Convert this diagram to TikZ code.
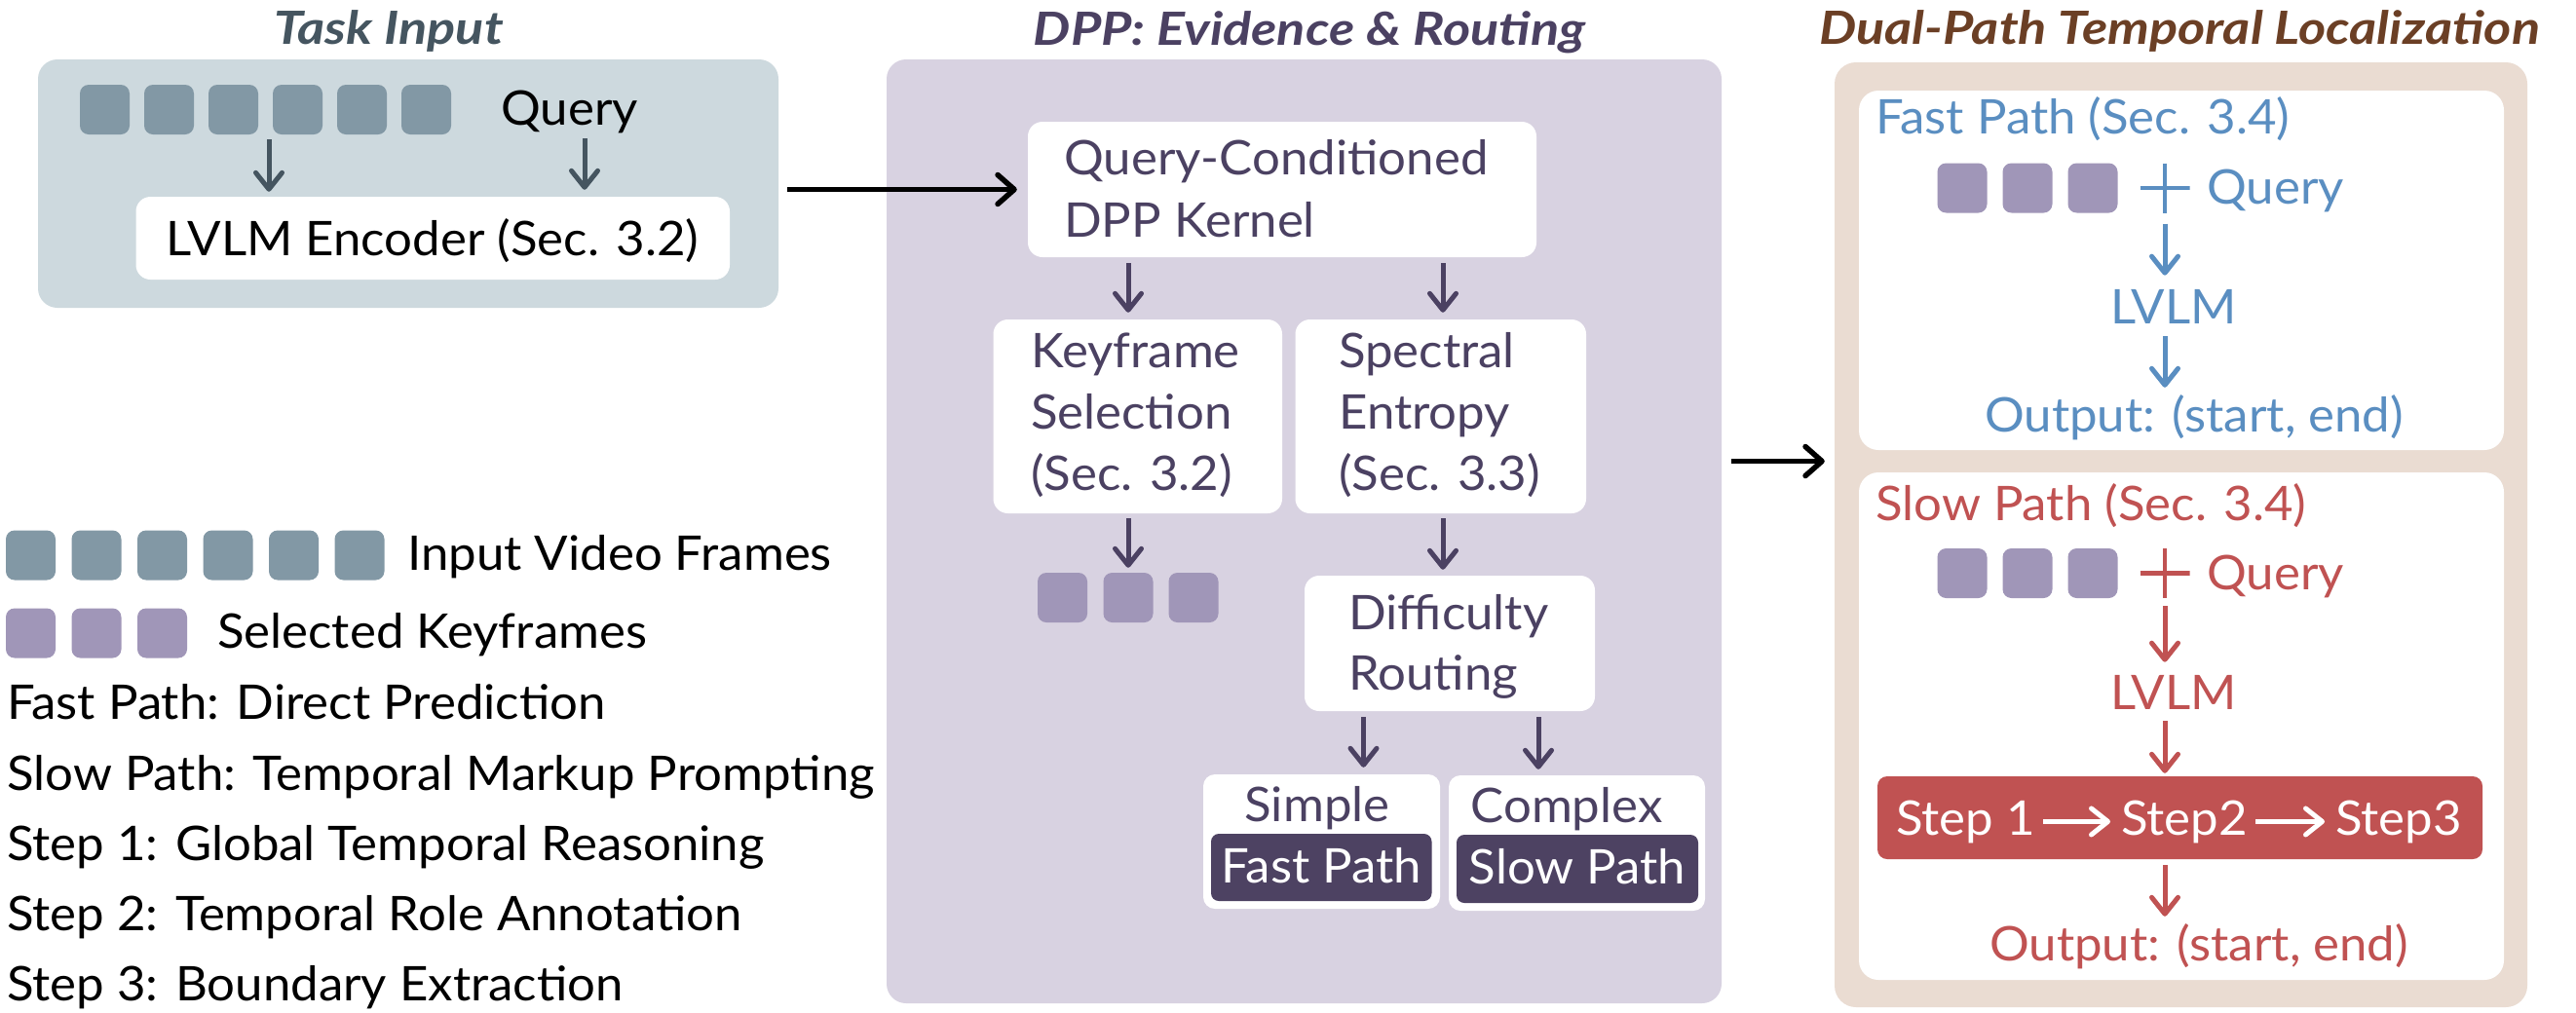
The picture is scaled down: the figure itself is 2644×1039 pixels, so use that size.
\documentclass[tikz,border=0pt]{standalone}
\usepackage{fontspec}
\setmainfont[FakeStretch=1.04]{Lato}
\newfontfamily\titlefont[FakeStretch=1.15]{Lato}
\usetikzlibrary{arrows.meta,calc}
\definecolor{taskfill}{HTML}{CDD9DE}
\definecolor{slate}{HTML}{8298A5}
\definecolor{slatedk}{HTML}{455560}
\definecolor{dppfill}{HTML}{D8D2E1}
\definecolor{purpdk}{HTML}{4B4162}
\definecolor{purpfrm}{HTML}{A096B8}
\definecolor{beige}{HTML}{EADCD2}
\definecolor{titlebrown}{HTML}{6B3F25}
\definecolor{fastblue}{HTML}{5A8EC1}
\definecolor{slowred}{HTML}{C05252}
\definecolor{darklabel}{HTML}{4D4262}
\begin{document}
\begin{tikzpicture}[x=1pt,y=-1pt,
  txt/.style={inner sep=0pt, font=\fontsize{49}{64}\selectfont},
  ttl/.style={inner sep=0pt, font=\titlefont\fontsize{47}{56}\selectfont\bfseries\itshape},
  panel/.style={inner sep=0pt, rounded corners=20pt},
  wbox/.style={fill=white, inner sep=0pt, rounded corners=15pt},
  frm/.style={minimum width=51pt, minimum height=51pt, inner sep=0pt, rounded corners=9pt, fill=#1},
  arr/.style={line width=5pt, draw=#1, -{Straight Barb[length=17pt,width=27pt,round]}},
  barr/.style={line width=5.5pt, draw=black, -{Straight Barb[length=17pt,width=30pt,round]}},
  plussign/.style={minimum size=51pt, inner sep=0pt,
    path picture={\draw[line width=4.5pt, draw=#1]
      (path picture bounding box.north) -- (path picture bounding box.south)
      (path picture bounding box.west) -- (path picture bounding box.east);}}
]
\useasboundingbox (0,0) rectangle (2644,1039);
\fill[white] (0,0) rectangle (2644,1039);

% ---------------- Task Input ----------------
\node[ttl, text=slatedk, anchor=base] (ttask) at (399,45) {Task Input};
\node[panel, fill=taskfill, minimum width=760pt, minimum height=255pt] (taskbox) at (419,188.5) {};
\foreach \i in {1,...,6} \node[frm=slate] (f\i) at ({107.5+66*(\i-1)},112.5) {};
\node[txt, anchor=base west] (query) at (514,128) {Query};
\node[wbox, minimum width=609.5pt, minimum height=85pt] (enc) at (444.25,244.5) {};
\node[txt, anchor=base] (enctxt) at (444,262) {LVLM Encoder (Sec. 3.2)};
\coordinate (ax1) at (276,0);
\coordinate (ax2) at (600,0);
\draw[arr=slatedk, shorten <=5pt, shorten >=5pt] (ax1 |- f1.south) -- (ax1 |- enc.north);
\draw[arr=slatedk, shorten <=4pt, shorten >=7pt] (ax2 |- f1.south) -- (ax2 |- enc.north);

% ---------------- DPP ----------------
\node[ttl, text=purpdk, anchor=base] (tdpp) at (1344,46) {DPP: Evidence \& Routing};
\node[panel, fill=dppfill, minimum width=857pt, minimum height=969pt] (dpp) at (1338.5,545.5) {};
\node[wbox, minimum width=522pt, minimum height=139pt] (qc) at (1316,194.5) {};
\node[txt, text=purpdk, anchor=base west] (qc1) at (1092,179) {Query-Conditioned};
\node[txt, text=purpdk, anchor=base west] (qc2) at (1092,243) {DPP Kernel};
\node[wbox, minimum width=296.5pt, minimum height=199pt] (kf) at (1167.75,427.5) {};
\node[txt, text=purpdk, anchor=base west] (kf1) at (1058,377) {Keyframe};
\node[txt, text=purpdk, anchor=base west] (kf2) at (1058,440) {Selection};
\node[txt, text=purpdk, anchor=base west] (kf3) at (1058,503) {(Sec. 3.2)};
\node[wbox, minimum width=298.5pt, minimum height=199pt] (se) at (1478.75,427.5) {};
\node[txt, text=purpdk, anchor=base west] (se1) at (1374,377) {Spectral};
\node[txt, text=purpdk, anchor=base west] (se2) at (1374,440) {Entropy};
\node[txt, text=purpdk, anchor=base west] (se3) at (1374,503) {(Sec. 3.3)};
\node[frm=purpfrm] (k1) at (1090.5,613.5) {};
\node[frm=purpfrm] (k2) at (1158,613.5) {};
\node[frm=purpfrm] (k3) at (1225,613.5) {};
\node[wbox, minimum width=298pt, minimum height=139pt] (dr) at (1488,660.5) {};
\node[txt, text=purpdk, anchor=base west] (dr1) at (1384,646) {Difficulty};
\node[txt, text=purpdk, anchor=base west] (dr2) at (1384,708) {Routing};
\node[wbox, rounded corners=12pt, minimum width=243pt, minimum height=138pt] (simple) at (1356.5,864) {};
\node[txt, text=purpdk, anchor=base] (simpletxt) at (1352,843) {Simple};
\node[fill=darklabel, rounded corners=8pt, inner sep=0pt, minimum width=226.5pt, minimum height=69pt] (fastd) at (1356.25,890.5) {};
\node[txt, text=white, anchor=base] (fastdtxt) at (1356.25,906) {Fast Path};
\node[wbox, rounded corners=12pt, minimum width=263pt, minimum height=139pt] (complex) at (1618.5,865.5) {};
\node[txt, text=purpdk, anchor=base] (complextxt) at (1608,844) {Complex};
\node[fill=darklabel, rounded corners=8pt, inner sep=0pt, minimum width=248pt, minimum height=70pt] (slowd) at (1619,892) {};
\node[txt, text=white, anchor=base] (slowdtxt) at (1619,907) {Slow Path};
\coordinate (kx) at (1158,0);
\coordinate (sx) at (1481,0);
\coordinate (dx1) at (1399.5,0);
\coordinate (dx2) at (1579,0);
\draw[arr=purpdk, shorten <=6pt, shorten >=7pt] (kx |- qc.south) -- (kx |- kf.north);
\draw[arr=purpdk, shorten <=6pt, shorten >=7pt] (sx |- qc.south) -- (sx |- se.north);
\draw[arr=purpdk, shorten <=5pt, shorten >=5pt] (kx |- kf.south) -- (k2.north);
\draw[arr=purpdk, shorten <=5pt, shorten >=6pt] (sx |- se.south) -- (sx |- dr.north);
\draw[arr=purpdk, shorten <=6pt, shorten >=7pt] (dx1 |- dr.south) -- (dx1 |- simple.north);
\draw[arr=purpdk, shorten <=6pt, shorten >=6pt] (dx2 |- dr.south) -- (dx2 |- complex.north);

% ---------------- Dual path ----------------
\node[ttl, text=titlebrown, anchor=base] (tdual) at (2237,45) {Dual-Path Temporal Localization};
\node[panel, fill=beige, rounded corners=22pt, minimum width=711pt, minimum height=970pt] (outer) at (2238.5,549) {};
\node[wbox, rounded corners=20pt, minimum width=662pt, minimum height=369pt] (fastbox) at (2239,277.5) {};
\node[wbox, rounded corners=20pt, minimum width=662pt, minimum height=521pt] (slowbox) at (2239,745.5) {};

\node[txt, text=fastblue, anchor=base west] (fttl) at (1925,137) {Fast Path (Sec. 3.4)};
\node[frm=purpfrm] (fk1) at (2014,193) {};
\node[frm=purpfrm] (fk2) at (2081,193) {};
\node[frm=purpfrm] (fk3) at (2148,193) {};
\node[plussign=fastblue] (fp) at (2222,193) {};
\node[txt, text=fastblue, anchor=base west] (fq) at (2265,209) {Query};
\node[txt, text=fastblue, anchor=base] (flvlm) at (2231,332) {LVLM};
\node[txt, text=fastblue, anchor=base] (fout) at (2252,443) {Output: (start, end)};
\draw[arr=fastblue, shorten <=11pt, shorten >=14pt] (fp.south) -- (fp.south |- flvlm.north);
\draw[arr=fastblue, shorten <=13pt, shorten >=7pt] (fp.south |- flvlm.south) -- (fp.south |- fout.north);

\node[txt, text=slowred, anchor=base west] (sttl) at (1925,534) {Slow Path (Sec. 3.4)};
\node[frm=purpfrm] (sk1) at (2014,588.5) {};
\node[frm=purpfrm] (sk2) at (2081,588.5) {};
\node[frm=purpfrm] (sk3) at (2148,588.5) {};
\node[plussign=slowred] (sp) at (2222,588.5) {};
\node[txt, text=slowred, anchor=base west] (sq) at (2265,605) {Query};
\node[txt, text=slowred, anchor=base] (slvlm) at (2231,728) {LVLM};
\node[fill=slowred, rounded corners=10pt, inner sep=0pt, minimum width=621pt, minimum height=85pt] (stepbox) at (2237.5,839.5) {};
\node[txt, text=white, anchor=base west] (st1) at (1946,857) {Step 1};
\node[txt, text=white, anchor=base west] (st2) at (2177,857) {Step2};
\node[txt, text=white, anchor=base west] (st3) at (2397,857) {Step3};
\node[txt, text=slowred, anchor=base] (sout) at (2257,986) {Output: (start, end)};
\draw[arr=slowred, shorten <=8pt, shorten >=13pt] (sp.south) -- (sp.south |- slvlm.north);
\draw[arr=slowred, shorten <=12pt, shorten >=3pt] (sp.south |- slvlm.south) -- (sp.south |- stepbox.north);
\draw[arr=slowred, shorten <=6pt, shorten >=7pt] (sp.south |- stepbox.south) -- (sp.south |- sout.north);
\draw[arr=white, shorten <=8pt, shorten >=11pt] (st1.east) -- (st2.west);
\draw[arr=white, shorten <=8pt, shorten >=11pt] (st2.east) -- (st3.west);

% ---------------- connectors between panels ----------------
\coordinate (gap) at ($(fastbox.south)!0.5!(slowbox.north)$);
\draw[barr, shorten <=9pt, shorten >=11pt] (taskbox.east |- qc.west) -- (qc.west);
\draw[barr, shorten <=10pt, shorten >=10pt] (dpp.east |- gap) -- (outer.west |- gap);

% ---------------- Legend ----------------
\foreach \i in {1,...,6} \node[frm=slate] (lf\i) at ({31.5+67.5*(\i-1)},570) {};
\node[txt, anchor=base west] (lg1) at (418,585) {Input Video Frames};
\node[frm=purpfrm] (lk1) at (31.5,650) {};
\node[frm=purpfrm] (lk2) at (99,650) {};
\node[frm=purpfrm] (lk3) at (166.5,650) {};
\node[txt, anchor=base west] (lg2) at (223,665) {Selected Keyframes};
\node[txt, anchor=base west] (lg3) at (7,738) {Fast Path: Direct Prediction};
\node[txt, anchor=base west] (lg4) at (7,811) {Slow Path: Temporal Markup Prompting};
\node[txt, anchor=base west] (lg5) at (7,883) {Step 1: Global Temporal Reasoning};
\node[txt, anchor=base west] (lg6) at (7,955.5) {Step 2: Temporal Role Annotation};
\node[txt, anchor=base west] (lg7) at (7,1027.5) {Step 3: Boundary Extraction};
\end{tikzpicture}
\end{document}
